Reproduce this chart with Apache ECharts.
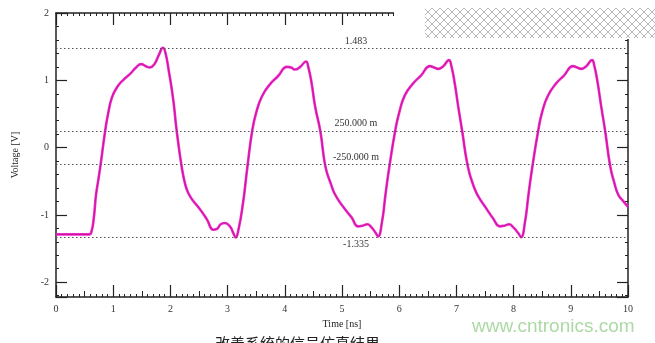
<!DOCTYPE html>
<html>
<head>
<meta charset="utf-8">
<script src="https://cdn.jsdelivr.net/npm/echarts@6/dist/echarts.min.js"></script>
<style>
  html, body { margin: 0; padding: 0; background: #fff; }
  #fig { width: 655px; height: 343px; }
</style>
</head>
<body>
<div id="fig"></div>
<script>
// waveform (time in ns, voltage in V)
const timeNs = [
  0, 0.58, 0.62, 0.66, 0.70, 0.74, 0.78, 0.86, 0.91, 0.98, 1.07, 1.17, 1.30, 1.40, 1.49, 1.57, 1.64, 1.72, 1.80, 1.87,
  1.91, 1.97, 2.05, 2.11, 2.20, 2.26, 2.31, 2.38, 2.52, 2.64, 2.75, 2.81, 2.88, 2.95, 3.04, 3.10, 3.14, 3.19, 3.27, 3.34,
  3.43, 3.50, 3.60, 3.74, 3.88, 4.04, 4.11, 4.18, 4.27, 4.37, 4.41, 4.47, 4.53, 4.62, 4.71, 4.81, 4.88, 5.02, 5.17,
  5.28, 5.36, 5.44, 5.52, 5.59, 5.63, 5.70, 5.76, 5.82,
  5.93, 6.00, 6.10, 6.24, 6.38, 6.54, 6.61, 6.68, 6.77, 6.87, 6.91, 6.97, 7.03, 7.10, 7.20, 7.30, 7.38, 7.52, 7.64,
  7.76, 7.84, 7.92, 8.00, 8.08, 8.13, 8.20, 8.26, 8.32,
  8.43, 8.50, 8.60, 8.74, 8.88, 9.04, 9.11, 9.18, 9.27, 9.37, 9.41, 9.47, 9.53, 9.60, 9.69, 9.76, 9.83, 9.92, 10.0
]
const voltage = [
  -1.29, -1.29, -1.25, -1.05, -0.70, -0.48, -0.25, 0.25, 0.50, 0.75, 0.90, 1.00, 1.10, 1.19, 1.24, 1.21, 1.19, 1.24, 1.38, 1.483,
  1.42, 1.15, 0.71, 0.25, -0.30, -0.55, -0.67, -0.77, -0.92, -1.07, -1.22, -1.21, -1.14, -1.12, -1.17, -1.27, -1.335, -1.22, -0.82, -0.33,
  0.25, 0.52, 0.76, 0.94, 1.06, 1.20, 1.19, 1.16, 1.20, 1.28, 1.20, 0.95, 0.61, 0.25, -0.28, -0.55, -0.70, -0.88, -1.04,
  -1.17, -1.16, -1.14, -1.19, -1.27, -1.32, -1.10, -0.70, -0.33,
  0.25, 0.52, 0.78, 0.95, 1.07, 1.21, 1.19, 1.17, 1.21, 1.30, 1.22, 0.96, 0.62, 0.25, -0.28, -0.57, -0.72, -0.90, -1.05,
  -1.17, -1.16, -1.14, -1.19, -1.27, -1.33, -1.10, -0.70, -0.33,
  0.25, 0.53, 0.77, 0.95, 1.07, 1.21, 1.19, 1.17, 1.21, 1.30, 1.22, 0.96, 0.62, 0.25, -0.28, -0.52, -0.70, -0.80, -0.88
]
// cursor lines and their labels
const cursorValues = [1.483, 0.25, -0.25, -1.335]
const cursorLabels = ['1.483', '250.000 m', '-250.000 m', '-1.335']

const serif = '"Liberation Serif", "DejaVu Serif", serif'
const axisDark = '#222'

// cross-hatch tile for the box in the top right corner
function hatchTile() {
  const c = document.createElement('canvas')
  c.width = 8; c.height = 8
  const g = c.getContext('2d')
  g.fillStyle = '#fff'
  g.fillRect(0, 0, 8, 8)
  g.strokeStyle = '#b8b8b8'
  g.lineWidth = 1
  g.beginPath()
  g.moveTo(0, 0); g.lineTo(8, 8)
  g.moveTo(8, 0); g.lineTo(0, 8)
  g.stroke()
  return c
}

const chart = echarts.init(document.getElementById('fig'))
const pts = timeNs.map((t, i) => [t, voltage[i]])

const lineX = { onZero: false, lineStyle: { color: axisDark, width: 1.5 } }

chart.setOption({
  animation: false,
  backgroundColor: '#fff',
  grid: { left: 56, right: 27, top: 13, bottom: 46 },
  xAxis: [
    {
      type: 'value', min: 0, max: 10, interval: 1,
      name: 'Time [ns]', nameLocation: 'middle', nameGap: 20,
      nameTextStyle: { fontFamily: serif, fontSize: 10, color: '#222' },
      axisLine: lineX,
      axisTick: { inside: true, length: 12, lineStyle: { color: axisDark, width: 1.2 } },
      minorTick: { show: true, splitNumber: 10, length: 3, lineStyle: { color: axisDark, width: 1 } },
      axisLabel: { fontFamily: serif, fontSize: 10, color: '#333', margin: 7 },
      splitLine: { show: false }
    },
    {
      // mid ticks at every half ns
      type: 'value', min: 0, max: 10, interval: 0.5, position: 'bottom',
      axisLine: { show: false, onZero: false },
      axisTick: { inside: true, length: 6, lineStyle: { color: axisDark, width: 1 } },
      axisLabel: { show: false },
      splitLine: { show: false }
    },
    {
      type: 'value', min: 0, max: 10, interval: 1, position: 'top',
      axisLine: lineX,
      axisTick: { inside: true, length: 12, lineStyle: { color: axisDark, width: 1.2 } },
      minorTick: { show: true, splitNumber: 10, length: 3, lineStyle: { color: axisDark, width: 1 } },
      axisLabel: { show: false },
      splitLine: { show: false }
    }
  ],
  yAxis: [
    {
      type: 'value', min: -2.22, max: 2, splitNumber: 4,
      name: 'Voltage [V]', nameLocation: 'middle', nameGap: 36,
      nameTextStyle: { fontFamily: serif, fontSize: 10, color: '#222' },
      axisLine: lineX,
      axisTick: { inside: true, length: 11, lineStyle: { color: axisDark, width: 1.2 } },
      minorTick: { show: true, splitNumber: 5, length: 3, lineStyle: { color: axisDark, width: 1 } },
      axisLabel: {
        fontFamily: serif, fontSize: 10, color: '#333', margin: 7,
        formatter: v => Number.isInteger(v) ? String(v) : ''
      },
      splitLine: { show: false }
    },
    {
      type: 'value', min: -2.22, max: 2, splitNumber: 4, position: 'right',
      axisLine: lineX,
      axisTick: { inside: true, length: 11, lineStyle: { color: axisDark, width: 1.2 } },
      minorTick: { show: true, splitNumber: 5, length: 3, lineStyle: { color: axisDark, width: 1 } },
      axisLabel: { show: false },
      splitLine: { show: false }
    }
  ],
  series: [
    {
      type: 'line',
      data: pts,
      showSymbol: false,
      smooth: 0.5,
      lineStyle: { color: '#ee2ad0', width: 2.6 },
      markLine: {
        silent: true,
        symbol: 'none',
        lineStyle: { color: '#555', width: 1, type: [1.5, 2.5] },
        data: cursorValues.map((v, i) => ({
          yAxis: v,
          label: {
            formatter: cursorLabels[i],
            position: i === 3 ? 'insideMiddleBottom' : 'insideMiddleTop',
            distance: 2,
            padding: [0, 0, 0, 28],
            fontFamily: serif, fontSize: 10, color: '#333'
          }
        }))
      },
      z: 3
    },
    {
      // darker core of the trace
      type: 'line',
      data: pts,
      showSymbol: false,
      smooth: 0.5,
      lineStyle: { color: '#c41488', width: 0.9 },
      z: 4
    }
  ],
  graphic: [
    { type: 'rect', shape: { x: 394, y: 0, width: 261, height: 39 }, style: { fill: '#fff' }, z: 100 },
    { type: 'rect', shape: { x: 425, y: 8, width: 230, height: 30 }, style: { fill: { image: hatchTile(), repeat: 'repeat' } }, z: 101 },
    {
      type: 'text', left: 472, top: 317, z: 100,
      style: { text: 'www.cntronics.com', fill: '#acd9a4', font: '19px "Liberation Sans", Arial, sans-serif' }
    },
    {
      type: 'text', left: 215, top: 336, z: 100,
      style: { text: '改善系统的信号仿真结果', fill: '#222', font: '15px "Noto Sans CJK SC", sans-serif' }
    }
  ]
})
</script>
</body>
</html>
